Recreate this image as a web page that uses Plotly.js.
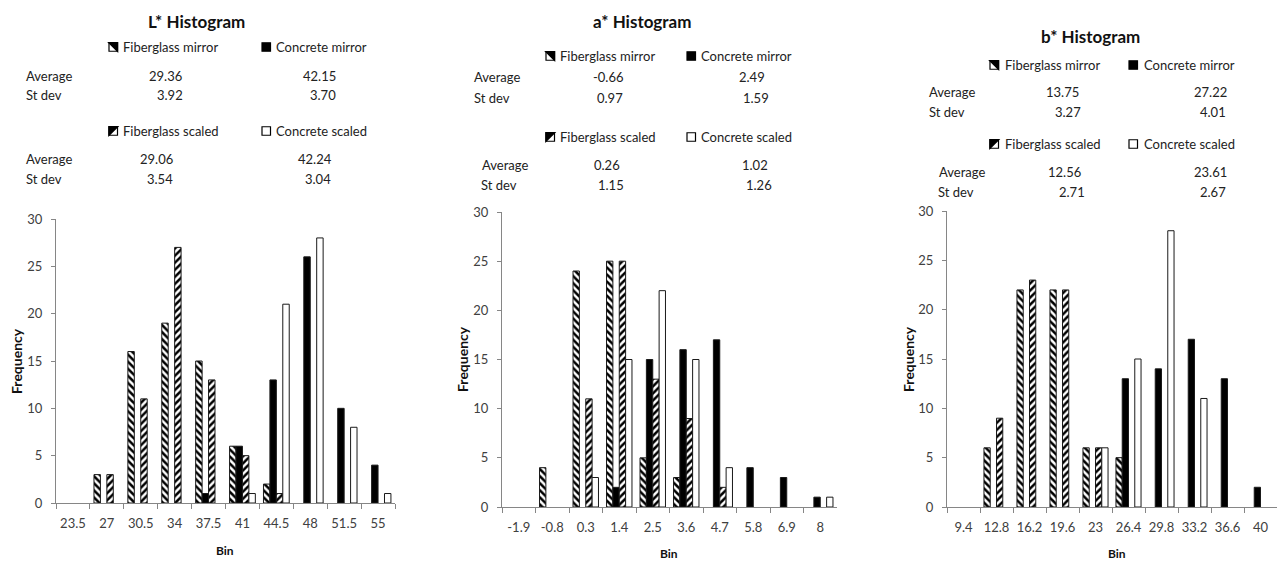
<!DOCTYPE html>
<html>
<head>
<meta charset="utf-8">
<script src="https://cdn.plot.ly/plotly-3.0.1.min.js"></script>
<style>html,body{margin:0;padding:0;background:#fff;}#chart{width:1287px;height:563px;}</style>
</head>
<body>
<div id="chart"></div>
<script>
// ---------- DATA ----------
const seriesNames = ["Fiberglass mirror", "Concrete mirror", "Fiberglass scaled", "Concrete scaled"];

const lBins = ["23.5", "27", "30.5", "34", "37.5", "41", "44.5", "48", "51.5", "55"];
const lFiberMirror = [0, 3, 16, 19, 15, 6, 2, 0, 0, 0];
const lConcMirror  = [0, 0, 0, 0, 1, 6, 13, 26, 10, 4];
const lFiberScaled = [0, 3, 11, 27, 13, 5, 1, 0, 0, 0];
const lConcScaled  = [0, 0, 0, 0, 0, 1, 21, 28, 8, 1];

const aBins = ["-1.9", "-0.8", "0.3", "1.4", "2.5", "3.6", "4.7", "5.8", "6.9", "8"];
const aFiberMirror = [0, 4, 24, 25, 5, 3, 0, 0, 0, 0];
const aConcMirror  = [0, 0, 0, 2, 15, 16, 17, 4, 3, 1];
const aFiberScaled = [0, 0, 11, 25, 13, 9, 2, 0, 0, 0];
const aConcScaled  = [0, 0, 3, 15, 22, 15, 4, 0, 0, 1];

const bBins = ["9.4", "12.8", "16.2", "19.6", "23", "26.4", "29.8", "33.2", "36.6", "40"];
const bFiberMirror = [0, 6, 22, 22, 6, 5, 0, 0, 0, 0];
const bConcMirror  = [0, 0, 0, 0, 0, 13, 14, 17, 13, 2];
const bFiberScaled = [0, 9, 23, 22, 6, 0, 0, 0, 0, 0];
const bConcScaled  = [0, 0, 0, 0, 6, 15, 28, 11, 0, 0];

const titles = ["L* Histogram", "a* Histogram", "b* Histogram"];
const statLabels = ["Average", "St dev"];
const lStatsMirror = [["29.36", "3.92"], ["42.15", "3.70"]];
const lStatsScaled = [["29.06", "3.54"], ["42.24", "3.04"]];
const aStatsMirror = [["-0.66", "0.97"], ["2.49", "1.59"]];
const aStatsScaled = [["0.26", "1.15"], ["1.02", "1.26"]];
const bStatsMirror = [["13.75", "3.27"], ["27.22", "4.01"]];
const bStatsScaled = [["12.56", "2.71"], ["23.61", "2.67"]];

// ---------- LAYOUT HELPERS ----------
const W = 1287, H = 563;
const px = x => x / W;
const py = y => 1 - y / H;
const FONT = "Lato, 'Open Sans', sans-serif";
const TXT = "#222";

const panels = [
  {bins: lBins, data: [lFiberMirror, lConcMirror, lFiberScaled, lConcScaled],
   x0: 56, x1: 395, yTop: 219, yBot: 503,
   title: {x: 196, y: 22},
   rows: [47, 76, 95, 131, 159, 179], labX: [24, 24, 24, 24],
   patchX: [109, 262], textX: [121, 274],
   valX: [[165.5, 169.7], [319, 322.5], [156, 160], [315, 318]],
   mirror: lStatsMirror, scaled: lStatsScaled,
   freq: {x: 16, y: 361}, bin: {x: 225, y: 550}},
  {bins: aBins, data: [aFiberMirror, aConcMirror, aFiberScaled, aConcScaled],
   x0: 502, x1: 837, yTop: 212, yBot: 507,
   title: {x: 642, y: 21},
   rows: [56, 77, 98, 137, 165, 185], labX: [472, 472, 480, 479],
   patchX: [546, 687], textX: [558, 699],
   valX: [[608, 610], [752, 755.5], [606.7, 611], [754.7, 759]],
   mirror: aStatsMirror, scaled: aStatsScaled,
   freq: {x: 462, y: 359}, bin: {x: 669, y: 553}},
  {bins: bBins, data: [bFiberMirror, bConcMirror, bFiberScaled, bConcScaled],
   x0: 947, x1: 1277, yTop: 211, yBot: 507,
   title: {x: 1090, y: 36},
   rows: [65, 92, 112, 144, 172, 192], labX: [927, 927, 937, 936],
   patchX: [990, 1129], textX: [1003, 1142],
   valX: [[1062.7, 1067.8], [1210, 1213], [1064.3, 1072], [1210, 1213]],
   mirror: bStatsMirror, scaled: bStatsScaled,
   freq: {x: 908, y: 359}, bin: {x: 1117, y: 553}}
];

const styles = [
  {color: "white", line: "#1a1a1a", pattern: {shape: "\\", size: 5, solidity: 0.5, fgcolor: "black", bgcolor: "white", fillmode: "replace"}},
  {color: "black", line: "#1a1a1a", pattern: null},
  {color: "white", line: "#1a1a1a", pattern: {shape: "/", size: 5, solidity: 0.5, fgcolor: "black", bgcolor: "white", fillmode: "replace"}},
  {color: "white", line: "#1a1a1a", pattern: null}
];

const traces = [];
const layout = {
  width: W, height: H,
  margin: {l: 0, r: 0, t: 0, b: 0},
  paper_bgcolor: "white", plot_bgcolor: "white",
  showlegend: false,
  barmode: "group", bargap: 0.24, bargroupgap: 0,
  font: {family: FONT, size: 13, color: TXT},
  annotations: [], shapes: []
};

function ann(text, x, y, opts) {
  layout.annotations.push(Object.assign({
    text: text, x: px(x), y: py(y), xref: "paper", yref: "paper",
    showarrow: false, xanchor: "left", yanchor: "middle",
    font: {family: FONT, size: 13, color: TXT}
  }, opts || {}));
}

function patch(kind, x, yc) {
  const s = 8.5, x0 = px(x), x1 = px(x + s), y0 = py(yc + s / 2), y1 = py(yc - s / 2);
  const base = {xref: "paper", yref: "paper"};
  layout.shapes.push(Object.assign({}, base, {type: "rect", x0: x0, x1: x1, y0: y0, y1: y1,
    line: {color: "black", width: 1.2}, fillcolor: kind === 1 ? "black" : "white"}));
  if (kind === 0) {
    layout.shapes.push(Object.assign({}, base, {type: "path",
      path: `M ${x0} ${y1} L ${x1} ${y1} L ${x1} ${y0} Z`, fillcolor: "black", line: {color: "black", width: 1.5}}));
  } else if (kind === 2) {
    layout.shapes.push(Object.assign({}, base, {type: "path",
      path: `M ${x0} ${y0} L ${x0} ${y1} L ${x1} ${y1} Z`, fillcolor: "black", line: {color: "black", width: 1.5}}));
  }
}

panels.forEach((p, i) => {
  const n = i === 0 ? "" : String(i + 1);
  const xa = "xaxis" + n, ya = "yaxis" + n;
  layout[xa] = {
    domain: [px(p.x0), px(p.x1)], anchor: "y" + n, type: "category",
    range: [-0.5, 9.5], fixedrange: true,
    showline: true, linecolor: "#868686", linewidth: 1,
    ticks: "outside", tickson: "boundaries", ticklen: 5, tickcolor: "#868686",
    showgrid: false, zeroline: false, tickangle: 0,
    tickfont: {family: FONT, size: 13, color: "#404040"}, ticklabelstandoff: 8
  };
  layout[ya] = {
    domain: [py(p.yBot), py(p.yTop)], anchor: "x" + n,
    range: [0, 30], dtick: 5, fixedrange: true,
    showline: true, linecolor: "#868686", linewidth: 1,
    ticks: "outside", ticklen: 4, tickcolor: "#868686",
    showgrid: false, zeroline: false,
    tickfont: {family: FONT, size: 13, color: "#404040"}, ticklabelstandoff: 6
  };
  p.data.forEach((vals, k) => {
    const st = styles[k];
    const marker = {color: st.color, line: {color: st.line, width: vals.map(v => v > 0 ? 1 : 0)}};
    if (st.pattern) marker.pattern = st.pattern;
    traces.push({type: "bar", name: seriesNames[k], x: p.bins, y: vals,
      xaxis: "x" + n, yaxis: "y" + n, marker: marker, hoverinfo: "x+y+name"});
  });

  // title
  ann("<b>" + titles[i] + "</b>", p.title.x, p.title.y, {xanchor: "center", font: {family: FONT, size: 17, color: "#111"}});
  // stats table
  const r = p.rows;
  patch(0, p.patchX[0], r[0]); ann(seriesNames[0], p.textX[0], r[0]);
  patch(1, p.patchX[1], r[0]); ann(seriesNames[1], p.textX[1], r[0]);
  ann(statLabels[0], p.labX[0], r[1]); ann(statLabels[1], p.labX[1], r[2]);
  ann(p.mirror[0][0], p.valX[0][0], r[1], {xanchor: "center"});
  ann(p.mirror[0][1], p.valX[0][1], r[2], {xanchor: "center"});
  ann(p.mirror[1][0], p.valX[1][0], r[1], {xanchor: "center"});
  ann(p.mirror[1][1], p.valX[1][1], r[2], {xanchor: "center"});
  patch(2, p.patchX[0], r[3]); ann(seriesNames[2], p.textX[0], r[3]);
  patch(3, p.patchX[1], r[3]); ann(seriesNames[3], p.textX[1], r[3]);
  ann(statLabels[0], p.labX[2], r[4]); ann(statLabels[1], p.labX[3], r[5]);
  ann(p.scaled[0][0], p.valX[2][0], r[4], {xanchor: "center"});
  ann(p.scaled[0][1], p.valX[2][1], r[5], {xanchor: "center"});
  ann(p.scaled[1][0], p.valX[3][0], r[4], {xanchor: "center"});
  ann(p.scaled[1][1], p.valX[3][1], r[5], {xanchor: "center"});
  // axis titles
  ann("<b>Frequency</b>", p.freq.x, p.freq.y, {xanchor: "center", textangle: -90, font: {family: FONT, size: 14, color: "#111"}});
  ann("<b>Bin</b>", p.bin.x, p.bin.y, {xanchor: "center", font: {family: FONT, size: 12, color: "#111"}});
});

Plotly.newPlot("chart", traces, layout, {displayModeBar: false, staticPlot: true});
</script>
</body>
</html>
